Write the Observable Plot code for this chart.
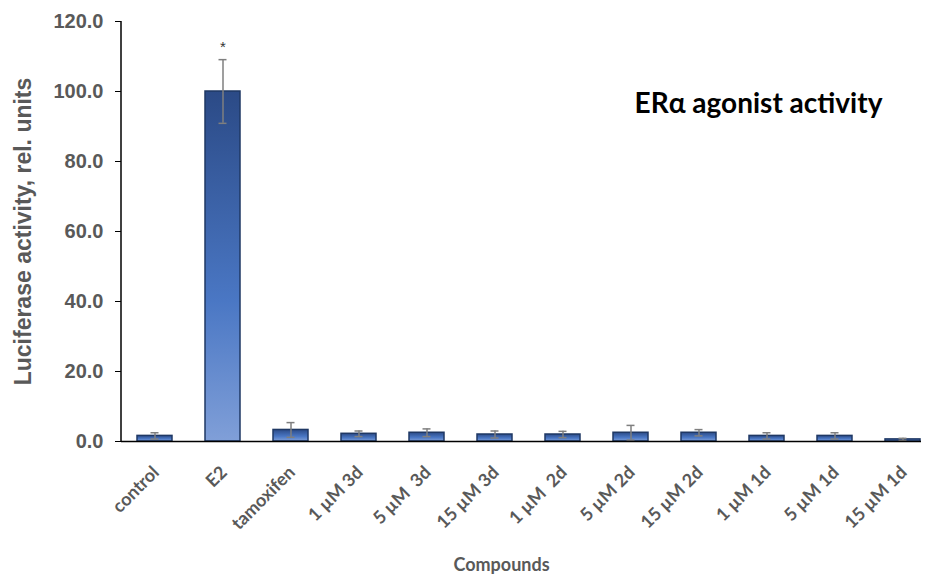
<!DOCTYPE html>
<html><head><meta charset="utf-8">
<script src="https://cdn.jsdelivr.net/npm/d3@7"></script>
<script src="https://cdn.jsdelivr.net/npm/@observablehq/plot@0.6"></script>
<style>body{margin:0;background:#fff} #chart{width:928px;height:579px}</style>
</head><body><div id="chart"></div>
<script>
const categories = ["control","E2","tamoxifen","1 µM 3d","5 µM  3d","15 µM 3d","1 µM  2d","5 µM 2d","15 µM 2d","1 µM 1d","5 µM 1d","15 µM 1d"];
const values = [1.6, 100, 3.3, 2.2, 2.5, 2.0, 2.0, 2.5, 2.5, 1.6, 1.6, 0.6];
const errors = [0.9, 9.1, 2.1, 0.8, 1.1, 1.0, 0.9, 2.1, 0.9, 0.9, 0.9, 0.3];
const significance = ["", "*", "", "", "", "", "", "", "", "", "", ""];
const yTicks = [0, 20, 40, 60, 80, 100, 120];
const title = "ERα agonist activity";
const yLabel = "Luciferase activity, rel. units";
const xLabel = "Compounds";

const data = categories.map((c, i) => ({name: c, value: values[i], err: errors[i], sig: significance[i]}));
const grey = "#595959";
const errColor = "#7f7f7f";

const chart = Plot.plot({
  width: 928, height: 579,
  marginTop: 21, marginBottom: 138, marginLeft: 121, marginRight: 7,
  style: {fontFamily: "'Liberation Sans', Arial, sans-serif", background: "#fff", overflow: "visible"},
  x: {domain: categories, range: [121, 937], paddingInner: 0.485, paddingOuter: 0.2425, label: null},
  y: {domain: [0, 120], label: null},
  marks: [
    Plot.barY(data, {x: "name", y: "value", fill: "url(#barGrad)", stroke: "#1f3864", strokeWidth: 1.5}),
    Plot.ruleX(data, {x: "name", y1: d => d.value - d.err, y2: d => d.value + d.err, stroke: errColor, strokeWidth: 1.5}),
    Plot.tickY(data, {x: "name", y: d => d.value + d.err, stroke: errColor, strokeWidth: 1.5, insetLeft: 13.5, insetRight: 13.5}),
    Plot.tickY(data, {x: "name", y: d => d.value - d.err, stroke: errColor, strokeWidth: 1.5, insetLeft: 13.5, insetRight: 13.5}),
    Plot.text(data.filter(d => d.sig), {x: "name", y: d => d.value + d.err, text: "sig", dy: -12, fontSize: 15, fill: "#333"}),
    Plot.ruleY([0], {stroke: "#000", strokeWidth: 1.5}),
    Plot.ruleX([categories[0]], {dx: -34, y1: 0, y2: 120, stroke: "#000", strokeWidth: 1.5}),
    Plot.axisY({ticks: yTicks, tickFormat: d => d.toFixed(1), tickSize: 6, tickPadding: 12, fontSize: 20, fontWeight: "bold", fill: grey, stroke: "#000", label: null}),
    Plot.axisX({tickSize: 0, tickRotate: -45, tickPadding: 28, dx: 1, fontSize: 18, fontWeight: "bold", fontFamily: "Lato", fill: grey, label: null}),
    Plot.text([yLabel], {frameAnchor: "left", textAnchor: "middle", rotate: -90, dx: -98, fontSize: 23, fontWeight: "bold", fill: grey}),
    Plot.text([xLabel], {frameAnchor: "bottom", dx: -20, dy: 129, fontSize: 18, fontWeight: "bold", fontFamily: "Lato", fill: grey}),
    Plot.text([title], {frameAnchor: "top", dx: 237, dy: 72, fontSize: 28, fontWeight: "bold", fontFamily: "Lato", fill: "#000"})
  ]
});

const svg = d3.select(chart);
const grad = svg.insert("defs", ":first-child").append("linearGradient")
  .attr("id", "barGrad").attr("x1", 0).attr("y1", 0).attr("x2", 0).attr("y2", 1);
grad.append("stop").attr("offset", "0%").attr("stop-color", "#2b4a86");
grad.append("stop").attr("offset", "60%").attr("stop-color", "#4a77c4");
grad.append("stop").attr("offset", "100%").attr("stop-color", "#809fd8");

document.getElementById("chart").appendChild(chart);
</script>
</body></html>
